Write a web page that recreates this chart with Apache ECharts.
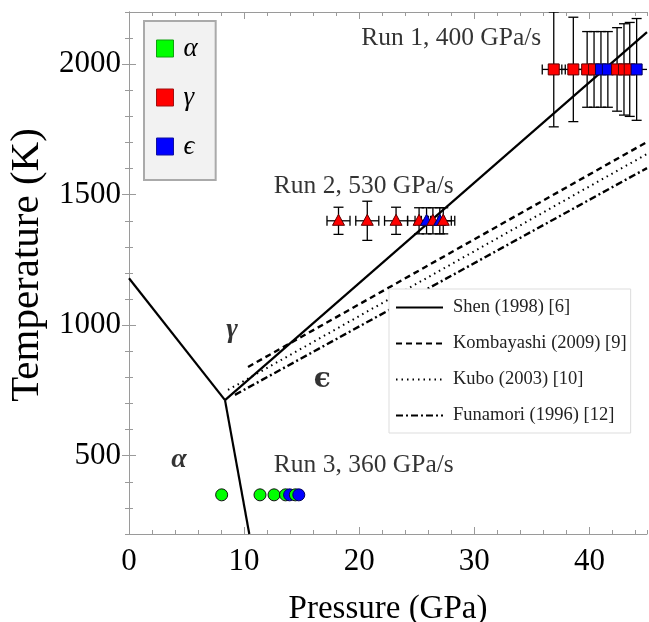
<!DOCTYPE html>
<html><head><meta charset="utf-8">
<script src="https://cdn.jsdelivr.net/npm/echarts@6/dist/echarts.min.js"></script>
<style>html,body{margin:0;padding:0;background:#fff}#c{width:649px;height:622px}</style>
</head><body><div id="c"></div>
<script>
// ---- tick labels ----
const xTickLabels = [0, 10, 20, 30, 40];
const yTickLabels = [500, 1000, 1500, 2000];

// ---- phase boundaries [P (GPa), T (K)] ----
const shenAlphaGamma = [[0, 1180], [8.34, 713]];
const shenAlphaEps = [[8.34, 713], [10.45, 200]];
const shenGammaEps = [[8.34, 713], [45, 2123]];
const kombayashi = [[10.34, 840], [45, 1702]];
const kubo = [[8.6, 752], [45, 1656]];
const funamori = [[9.2, 733], [45, 1602]];

// ---- runs (phase: 0 = alpha, 1 = gamma, 2 = epsilon) ----
const run1P = [36.9, 38.6, 39.8, 40.4, 41.0, 41.6, 42.4, 43.0, 43.5, 44.1];
const run1T = [1980, 1980, 1980, 1980, 1980, 1980, 1980, 1980, 1980, 1980];
const run1PErr = [1, 1, 1, 1, 1, 1, 1, 1, 1, 1];
const run1TErr = [220, 200, 145, 145, 145, 145, 160, 175, 180, 195];
const run1Phase = [1, 1, 1, 1, 2, 2, 1, 1, 1, 2];

const run2P = [18.2, 20.7, 23.2, 25.2, 25.85, 26.4, 27.0, 27.3];
const run2T = [1400, 1400, 1400, 1400, 1400, 1400, 1400, 1400];
const run2PErr = [1, 1, 1, 1, 1, 1, 1, 1];
const run2TErr = [52, 75, 52, 50, 50, 50, 50, 50];
const run2Phase = [1, 1, 1, 1, 2, 1, 2, 1];

const run3P = [8.05, 11.38, 12.6, 13.6, 13.95, 14.45, 14.75];
const run3T = [350, 350, 350, 350, 350, 350, 350];
const run3Phase = [0, 0, 0, 0, 2, 0, 2];

// ---- text annotations ----
const phaseNames = ['α', 'γ', 'ϵ'];
const phaseLabelP = [4.34, 8.95, 16.8];
const phaseLabelT = [483, 982, 792];
const runLabelText = ['Run 1, 400 GPa/s', 'Run 2, 530 GPa/s', 'Run 3, 360 GPa/s'];
const runLabelP = [28.0, 20.4, 20.4];
const runLabelT = [2100, 1533, 464];

const legendLines = ['Shen (1998) [6]', 'Kombayashi (2009) [9]', 'Kubo (2003) [10]', 'Funamori (1996) [12]'];

// ---- styles ----
const FONT = 'Liberation Serif';
const phaseColor = ['#00ff00', '#ff0000', '#0000ff'];
const phaseEdge = ['#111', '#5a0000', '#00005a'];
const legendEdge = ['#10a010', '#a01010', '#1010a0'];
const frameColor = '#9a9a9a';

// build data
const errData = [];
run1P.forEach((p, i) => errData.push([p, run1T[i], run1PErr[i], run1TErr[i]]));
run2P.forEach((p, i) => errData.push([p, run2T[i], run2PErr[i], run2TErr[i]]));

const markerData = []; // [P, T, shape, phase] shape: 0 circle, 1 triangle, 2 square
run3P.forEach((p, i) => markerData.push([p, run3T[i], 0, run3Phase[i]]));
run2P.forEach((p, i) => markerData.push([p, run2T[i], 1, run2Phase[i]]));
run1P.forEach((p, i) => markerData.push([p, run1T[i], 2, run1Phase[i]]));

function renderErr(params, api) {
  const x = api.value(0), y = api.value(1), dx = api.value(2), dy = api.value(3);
  const c = api.coord([x, y]);
  const l = api.coord([x - dx, y])[0], r = api.coord([x + dx, y])[0];
  const t = api.coord([x, y + dy])[1], b = api.coord([x, y - dy])[1];
  const cap = 5;
  const style = { stroke: '#000', lineWidth: 1.3, fill: null };
  const ln = (x1, y1, x2, y2) => ({ type: 'line', shape: { x1, y1, x2, y2 }, style });
  return {
    type: 'group', children: [
      ln(l, c[1], r, c[1]), ln(l, c[1] - cap, l, c[1] + cap), ln(r, c[1] - cap, r, c[1] + cap),
      ln(c[0], t, c[0], b), ln(c[0] - cap, t, c[0] + cap, t), ln(c[0] - cap, b, c[0] + cap, b)
    ]
  };
}

function renderMarker(params, api) {
  const c = api.coord([api.value(0), api.value(1)]);
  const shape = api.value(2), ph = api.value(3);
  const style = { fill: phaseColor[ph], stroke: phaseEdge[ph], lineWidth: 1 };
  if (shape === 0) return { type: 'circle', shape: { cx: c[0], cy: c[1], r: 6 }, style };
  if (shape === 1) return { type: 'polygon', shape: { points: [[c[0], c[1] - 6.5], [c[0] + 6, c[1] + 4.5], [c[0] - 6, c[1] + 4.5]] }, style };
  return { type: 'rect', shape: { x: c[0] - 5.5, y: c[1] - 5.5, width: 11, height: 11 }, style };
}

const lineSeries = (name, data, type, width) => ({
  name, type: 'line', data, showSymbol: false, symbol: 'none', silent: true,
  lineStyle: { color: '#000', width, type }, itemStyle: { color: '#000', opacity: 0 }, z: 2, animation: false
});

const textItems = [];
phaseNames.forEach((t, i) => textItems.push({
  value: [phaseLabelP[i], phaseLabelT[i]], name: t,
  label: { fontSize: 28, fontWeight: 'bold', fontStyle: i === 2 ? 'normal' : 'italic', fontFamily: i === 2 ? 'DejaVu Serif' : FONT }
}));
runLabelText.forEach((t, i) => textItems.push({
  value: [runLabelP[i], runLabelT[i]], name: t, label: { fontSize: 25.5, fontFamily: FONT }
}));

const X = { min: 0, max: 45 }, Y = { min: 200, max: 2200 };
const hidden = { show: false };
const tickStyle = { color: frameColor, width: 1 };
const plain = v => String(v);

const option = {
  animation: false,
  backgroundColor: '#fff',
  grid: { left: 129, right: 2, top: 12, bottom: 88, containLabel: false, outerBoundsMode: 'none' },
  xAxis: [
    { type: 'value', ...X, interval: 2, position: 'bottom',
      axisLine: { show: true, lineStyle: { color: frameColor } },
      axisTick: { show: true, inside: true, length: 4, lineStyle: tickStyle },
      axisLabel: { customValues: xTickLabels, formatter: plain, fontFamily: FONT, fontSize: 31, color: '#000', margin: 12 },
      splitLine: hidden,
      name: 'Pressure (GPa)', nameLocation: 'middle', nameGap: 59,
      nameTextStyle: { fontFamily: FONT, fontSize: 33, color: '#000' } },
    { type: 'value', ...X, position: 'bottom', axisLine: hidden,
      axisTick: { show: true, inside: true, length: 7, lineStyle: tickStyle, customValues: xTickLabels },
      axisLabel: hidden, splitLine: hidden },
    { type: 'value', ...X, interval: 2, position: 'top',
      axisLine: { show: true, lineStyle: { color: frameColor } },
      axisTick: { show: true, inside: true, length: 4, lineStyle: tickStyle },
      axisLabel: hidden, splitLine: hidden },
    { type: 'value', ...X, position: 'top', axisLine: hidden,
      axisTick: { show: true, inside: true, length: 7, lineStyle: tickStyle, customValues: xTickLabels },
      axisLabel: hidden, splitLine: hidden }
  ],
  yAxis: [
    { type: 'value', ...Y, interval: 100, position: 'left',
      axisLine: { show: true, lineStyle: { color: frameColor } },
      axisTick: { show: true, inside: true, length: 4, lineStyle: tickStyle },
      axisLabel: { customValues: yTickLabels, formatter: plain, fontFamily: FONT, fontSize: 31, color: '#000', margin: 8 },
      splitLine: hidden,
      name: 'Temperature (K)', nameLocation: 'middle', nameGap: 81,
      nameTextStyle: { fontFamily: FONT, fontSize: 41, color: '#000', padding: [0, 0, 0, 16] } },
    { type: 'value', ...Y, position: 'left', axisLine: hidden,
      axisTick: { show: true, inside: true, length: 7, lineStyle: tickStyle, customValues: yTickLabels },
      axisLabel: hidden, splitLine: hidden },
    { type: 'value', ...Y, interval: 100, position: 'right',
      axisLine: { show: true, lineStyle: { color: frameColor } },
      axisTick: { show: true, inside: true, length: 4, lineStyle: tickStyle },
      axisLabel: hidden, splitLine: hidden },
    { type: 'value', ...Y, position: 'right', axisLine: hidden,
      axisTick: { show: true, inside: true, length: 7, lineStyle: tickStyle, customValues: yTickLabels },
      axisLabel: hidden, splitLine: hidden }
  ],
  legend: [
    { orient: 'vertical', left: 144, top: 21, selectedMode: false,
      data: phaseNames.map((n, i) => ({ name: n, icon: 'rect',
        itemStyle: { color: phaseColor[i], borderColor: legendEdge[i], borderWidth: 1, opacity: 1 } })),
      itemWidth: 17, itemHeight: 17, itemGap: 22,
      padding: [14, 18, 20, 12], backgroundColor: '#f2f2f2', borderColor: '#aaa', borderWidth: 2,
      textStyle: { fontFamily: FONT, fontStyle: 'italic', fontSize: 27, color: '#000', padding: [0, 0, 0, 5] } },
    { orient: 'vertical', left: 389, top: 289, selectedMode: false,
      data: legendLines, itemWidth: 47, itemHeight: 14, itemGap: 17,
      itemStyle: { opacity: 0 },
      padding: [9, 4, 8, 6], backgroundColor: '#fff', borderColor: '#ddd', borderWidth: 1,
      textStyle: { fontFamily: FONT, fontSize: 18.5, color: '#222', padding: [0, 0, 0, 5] } }
  ],
  series: [
    lineSeries(legendLines[0], shenGammaEps, 'solid', 2.2),
    lineSeries(legendLines[0], shenAlphaGamma, 'solid', 2.2),
    lineSeries(legendLines[0], shenAlphaEps, 'solid', 2.2),
    lineSeries(legendLines[1], kombayashi, [6, 4], 2.4),
    lineSeries(legendLines[2], kubo, [1.5, 4], 2),
    lineSeries(legendLines[3], funamori, [7, 3, 2, 3], 2.4),
    { type: 'custom', name: 'errors', renderItem: renderErr, data: errData, z: 3, silent: true, clip: true },
    { type: 'custom', name: 'markers', renderItem: renderMarker, data: markerData, z: 4, silent: true },
    ...phaseNames.map((n, i) => ({ name: n, type: 'scatter', data: [], symbol: 'rect',
      itemStyle: { color: phaseColor[i] } })),
    { type: 'scatter', name: 'labels', data: textItems, symbolSize: 1, silent: true, z: 5,
      itemStyle: { color: 'rgba(0,0,0,0)' },
      label: { show: true, position: 'inside', color: '#000', formatter: '{b}' } }
  ]
};

const chart = echarts.init(document.getElementById('c'), null, { renderer: 'canvas' });
chart.setOption(option);
</script>
</body></html>
